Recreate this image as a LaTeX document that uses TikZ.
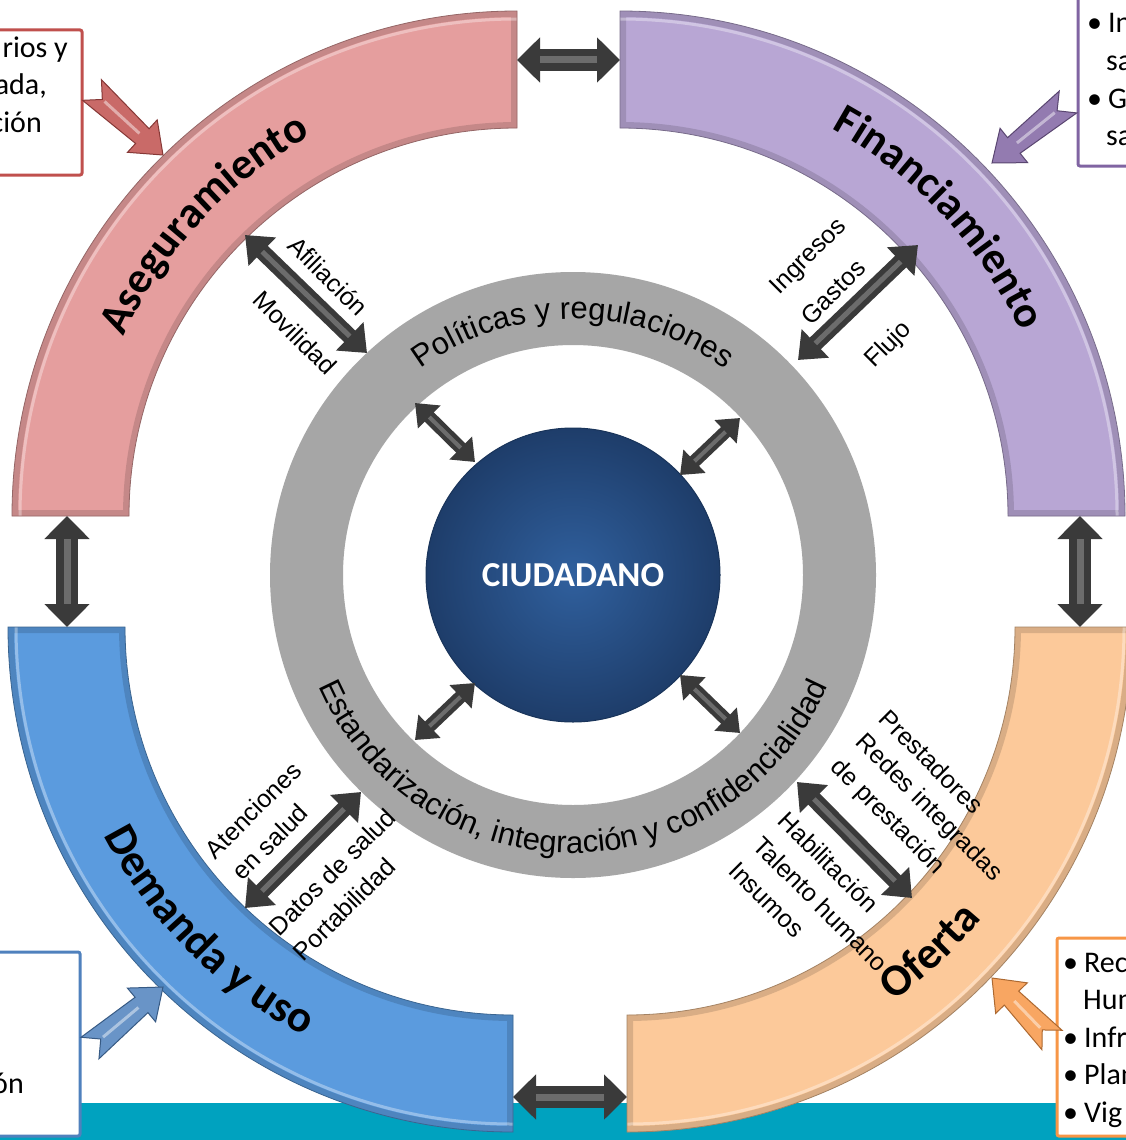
\documentclass[tikz,border=0pt]{standalone}
\usepackage{fontspec}
\setmainfont{Liberation Sans}
\newfontfamily\calfont{Carlito}
\usetikzlibrary{decorations.text,arrows.meta,calc}
\definecolor{pinkseg}{HTML}{E59E9E}
\definecolor{purpseg}{HTML}{B8A6D4}
\definecolor{blueseg}{HTML}{5B9BDE}
\definecolor{orangeseg}{HTML}{FCC99A}
\definecolor{ringgray}{HTML}{A6A6A6}
\definecolor{barcyan}{HTML}{00A2BF}
\definecolor{cin}{HTML}{30609E}
\definecolor{cout}{HTML}{1E3D6A}
\definecolor{redbox}{HTML}{C0504D}
\definecolor{purpbox}{HTML}{8064A2}
\definecolor{bluebox}{HTML}{4F81BD}
\definecolor{orangebox}{HTML}{F79646}
\definecolor{arrdark}{HTML}{3A3A3A}
\definecolor{arrhl}{HTML}{6C6C6C}

\tikzset{
  bigarr/.style={line width=22pt, draw=arrdark, {Triangle[width=44pt,length=23pt]}-{Triangle[width=44pt,length=23pt]}},
  bighl/.style={line width=7pt, draw=arrhl, shorten <=23pt, shorten >=23pt},
  midarr/.style={line width=16pt, draw=arrdark, {Triangle[width=38pt,length=24pt]}-{Triangle[width=38pt,length=24pt]}},
  midhl/.style={line width=5pt, draw=arrhl, shorten <=24pt, shorten >=24pt},
  smallarr/.style={line width=13pt, draw=arrdark, {Triangle[width=31pt,length=20pt]}-{Triangle[width=31pt,length=20pt]}},
  smallhl/.style={line width=4pt, draw=arrhl, shorten <=20pt, shorten >=20pt},
  boxtxt/.style={font=\calfont\fontsize{30}{37.5}\selectfont, inner sep=0pt},
  lbl/.style={font=\fontsize{25}{25}\selectfont, inner sep=0pt},
}

\newcommand\segpath[3]{($(#1)+(#2:505)$) arc[start angle=#2, end angle=#3, radius=505] -- ($(#1)+(#3:388)$) arc[start angle=#3, end angle=#2, radius=388] -- cycle}
\newcommand\ringseg[4]{%
  \begin{scope}
    \clip \segpath{#1}{#2}{#3};
    \fill[#4] \segpath{#1}{#2}{#3};
    \draw[#4!70!black, line width=12pt, opacity=0.45] \segpath{#1}{#2}{#3};
    \draw[white, line width=3pt, opacity=0.35] ($(#1)+(#2:497)$) arc[start angle=#2, end angle=#3, radius=497];
  \end{scope}
  \draw[#4!65!black, line width=0.8pt] \segpath{#1}{#2}{#3};
}
\newcommand\dblarrow[4]{%
  \draw[#1] (#3) -- (#4);
  \draw[#2] (#3) -- (#4);
}
\newcommand\blockarr[4]{%
  \fill[#3, draw=#4, line width=1pt, line join=miter]
    (#2)
    -- ($(#2)!28pt!(#1)!22pt!90:(#1)$)
    -- ($(#2)!28pt!(#1)!10pt!90:(#1)$)
    -- ($(#1)!14pt!-90:(#2)$)
    -- ($(#1)!14pt!(#2)$)
    -- ($(#1)!14pt!90:(#2)$)
    -- ($(#2)!28pt!(#1)!10pt!-90:(#1)$)
    -- ($(#2)!28pt!(#1)!22pt!-90:(#1)$)
    -- cycle;
  \draw[white, opacity=0.45, line width=3pt] ($(#1)!17pt!(#2)$) -- ($(#2)!32pt!(#1)$);
}

\begin{document}
\begin{tikzpicture}[x=1pt,y=-1pt]
\useasboundingbox (0,0) rectangle (1126,1140);
\fill[white] (0,0) rectangle (1126,1140);
\fill[barcyan] (0,1103) rectangle (1126,1140);

\coordinate (C) at (573,575);
\coordinate (Pk) at (517,516);
\coordinate (Pu) at (620,516);
\coordinate (Bl) at (513,627);
\coordinate (Or) at (627,627);

% gray ring
\fill[ringgray, even odd rule] (C) circle[radius=303] (C) circle[radius=230];

% central circle
\node[circle, minimum size=294pt, inner sep=0pt, inner color=cin, outer color=cout, draw=cout!85!black, line width=1pt,
      font=\calfont\bfseries\fontsize{35}{35}\selectfont, text=white] (ciud) at (C) {CIUDADANO};

% ring segments
\ringseg{Pk}{180}{270}{pinkseg}
\ringseg{Pu}{270}{360}{purpseg}
\ringseg{Bl}{90}{180}{blueseg}
\ringseg{Or}{0}{90}{orangeseg}

% segment titles
\path[decorate, decoration={text along path, text align=center,
  text={|\calfont\bfseries\fontsize{44}{44}\selectfont|Aseguramiento}}]
  ($(Pk)+(178:432)$) arc[start angle=178, end angle=268, radius=432];
\path[decorate, decoration={text along path, text align=center,
  text={|\calfont\bfseries\fontsize{44}{44}\selectfont|Financiamiento}}]
  ($(Pu)+(272:441)$) arc[start angle=272, end angle=362, radius=441];
\path[decorate, decoration={text along path, text align=center,
  text={|\calfont\bfseries\fontsize{45}{45}\selectfont|Demanda y uso}}]
  ($(Bl)+(180:459)$) arc[start angle=180, end angle=90, radius=459];
\path[decorate, decoration={text along path, text align=center,
  text={|\calfont\bfseries\fontsize{45}{45}\selectfont|Oferta}}]
  ($(Or)+(92:459)$) arc[start angle=92, end angle=2, radius=459];

% gray ring texts
\path[decorate, decoration={text along path, text align=center,
  text={|\fontsize{31}{31}\selectfont|Políticas y regulaciones}}]
  ($(C)+(180:256)$) arc[start angle=180, end angle=360, radius=256];
\path[decorate, decoration={text along path, text align=center,
  text={|\fontsize{31}{31}\selectfont|Estandarización{,} integración y confidencialidad}}]
  ($(C)+(180:278)$) arc[start angle=180, end angle=0, radius=278];

% connector end points
\coordinate (tA) at (517,60);   \coordinate (tB) at (620,60);
\coordinate (bA) at (513,1097); \coordinate (bB) at (627,1097);
\coordinate (lA) at (67,516);   \coordinate (lB) at (67,627);
\coordinate (rA) at (1080,516); \coordinate (rB) at (1080,627);
\coordinate (afA) at (245,235); \coordinate (afB) at (367,353);
\coordinate (fiA) at (918,245); \coordinate (fiB) at (798,360);
\coordinate (deA) at (245,908); \coordinate (deB) at (361,792);
\coordinate (ofA) at (797,782); \coordinate (ofB) at (912,898);
\coordinate (i1A) at (415,403); \coordinate (i1B) at (475,462);
\coordinate (i2A) at (740,418); \coordinate (i2B) at (680,475);
\coordinate (i3A) at (415,740); \coordinate (i3B) at (475,683);
\coordinate (i4A) at (680,675); \coordinate (i4B) at (740,733);

\dblarrow{bigarr}{bighl}{tA}{tB}
\dblarrow{bigarr}{bighl}{bA}{bB}
\dblarrow{bigarr}{bighl}{lA}{lB}
\dblarrow{bigarr}{bighl}{rA}{rB}
\dblarrow{midarr}{midhl}{afA}{afB}
\dblarrow{midarr}{midhl}{fiA}{fiB}
\dblarrow{midarr}{midhl}{deA}{deB}
\dblarrow{midarr}{midhl}{ofA}{ofB}
\dblarrow{smallarr}{smallhl}{i1A}{i1B}
\dblarrow{smallarr}{smallhl}{i2A}{i2B}
\dblarrow{smallarr}{smallhl}{i3A}{i3B}
\dblarrow{smallarr}{smallhl}{i4A}{i4B}

% labels by the arrows
\node[lbl, rotate=-45] (afil) at (328,276) {Afiliación};
\node[lbl, rotate=-45] (movi) at (295,333) {Movilidad};
\node[lbl, rotate=45] (ingr) at (809,257) {Ingresos};
\node[lbl, rotate=45] (gast) at (833,292) {Gastos};
\node[lbl, rotate=45] (fluj) at (889,345) {Flujo};
\node[lbl, rotate=45] (aten) at (253,810) {Atenciones};
\node[lbl, rotate=45] (ensa) at (270,842) {en salud};
\node[lbl, rotate=45] (dato) at (332,872) {Datos de salud};
\node[lbl, rotate=45] (port) at (344,909) {Portabilidad};
\node[lbl, rotate=-45, anchor=west] (pres) at (884,714) {Prestadores};
\node[lbl, rotate=-45, anchor=west] (rede) at (859,739) {Redes integradas};
\node[lbl, rotate=-45, anchor=west] (depr) at (834,764) {de prestación};
\node[lbl, rotate=-45, anchor=west] (habi) at (783,816) {Habilitación};
\node[lbl, rotate=-45, anchor=west] (tale) at (758,841) {Talento humano};
\node[lbl, rotate=-45, anchor=west] (insu) at (733,866) {Insumos};

% side boxes
\draw[redbox, line width=3pt, fill=white, rounded corners=2pt] (-10,30) rectangle (82,175);
\draw[purpbox, line width=3pt, fill=white, rounded corners=2pt] (1078,-10) rectangle (1140,166);
\draw[bluebox, line width=3pt, fill=white, rounded corners=2pt] (-10,952) rectangle (80,1136);
\draw[orangebox, line width=3pt, fill=white, rounded corners=2pt] (1057,938) rectangle (1140,1136);

\node[boxtxt, anchor=base east] (r1) at (68,57) {rios y};
\node[boxtxt, anchor=base east] (r2) at (47,94.5) {ada,};
\node[boxtxt, anchor=base east] (r3) at (42,132) {ción};

\node[boxtxt, anchor=base west] (p1) at (1087,33) {•\hspace{6pt}In};
\node[boxtxt, anchor=base west] (p2) at (1106,70.5) {sa};
\node[boxtxt, anchor=base west] (p3) at (1087,108) {•\hspace{6pt}G};
\node[boxtxt, anchor=base west] (p4) at (1106,145.5) {sa};

\node[boxtxt, anchor=base east] (b1) at (24,1093) {ón};

\node[boxtxt, anchor=base west] (o1) at (1063,972) {•\hspace{6pt}Rec};
\node[boxtxt, anchor=base west] (o2) at (1083,1009.5) {Hum};
\node[boxtxt, anchor=base west] (o3) at (1063,1047) {•\hspace{6pt}Infr};
\node[boxtxt, anchor=base west] (o4) at (1063,1084.5) {•\hspace{6pt}Plan};
\node[boxtxt, anchor=base west] (o5) at (1063,1122) {•\hspace{6pt}Vig};

% block arrows from boxes to segments
\coordinate (raA) at (92,90);    \coordinate (raB) at (163,155);
\coordinate (paA) at (1068,102); \coordinate (paB) at (992,163);
\coordinate (baA) at (90,1048);  \coordinate (baB) at (163,987);
\coordinate (oaA) at (1052,1040);\coordinate (oaB) at (992,978);
\blockarr{raA}{raB}{redbox!85!white}{redbox!70!black}
\blockarr{paA}{paB}{purpbox!85!white}{purpbox!70!black}
\blockarr{baA}{baB}{bluebox!85!white}{bluebox!70!black}
\blockarr{oaA}{oaB}{orangebox!85!white}{orangebox!70!black}
\end{tikzpicture}
\end{document}
